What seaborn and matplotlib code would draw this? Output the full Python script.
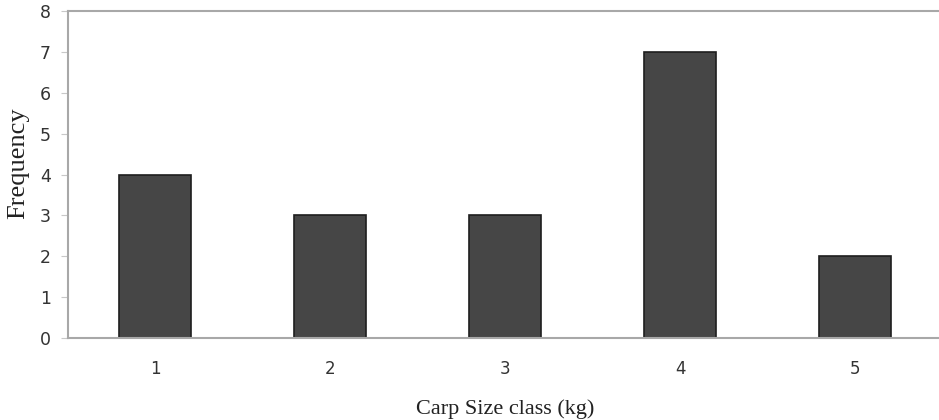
import matplotlib
matplotlib.use("Agg")
import matplotlib.pyplot as plt
import seaborn as sns
import pandas as pd

size_class = ["1", "2", "3", "4", "5"]
frequency = [4, 3, 3, 7, 2]

df = pd.DataFrame({"size_class": size_class, "frequency": frequency})

sns.set_style("white")
plt.rcParams["font.family"] = ["DejaVu Sans"]

fig = plt.figure(figsize=(9.39, 4.2), dpi=100)
ax = fig.add_axes([0.0719, 0.195, 0.932, 0.779])

sns.barplot(data=df, x="size_class", y="frequency", color="#464646",
            width=0.41, edgecolor="#1e1e1e", linewidth=1.2, saturation=1, ax=ax)

ax.set_xlim(-0.5, 4.5)
ax.set_ylim(0, 8)
ax.set_yticks(range(0, 9))

ax.spines["right"].set_visible(False)
for side in ["left", "bottom", "top"]:
    ax.spines[side].set_color("#a8a8a8")
    ax.spines[side].set_linewidth(1.5)

ax.set_xticks([0.5, 1.5, 2.5, 3.5], minor=True)
ax.tick_params(axis="x", which="major", length=0, pad=16, labelsize=12, labelcolor="#333333")
ax.tick_params(axis="x", which="minor", length=4, color="#c8c8c8", direction="in")
ax.tick_params(axis="y", length=5, color="#c8c8c8", pad=7, labelsize=12.5, labelcolor="#333333", left=True)

ax.set_xlabel("Carp Size class (kg)", family="Liberation Serif", fontsize=16, labelpad=15, color="#222222")
ax.set_ylabel("Frequency", family="Liberation Serif", fontsize=19, color="#222222")
ax.yaxis.set_label_coords(-0.044, 0.535)

fig.savefig("out.png", dpi=100)
